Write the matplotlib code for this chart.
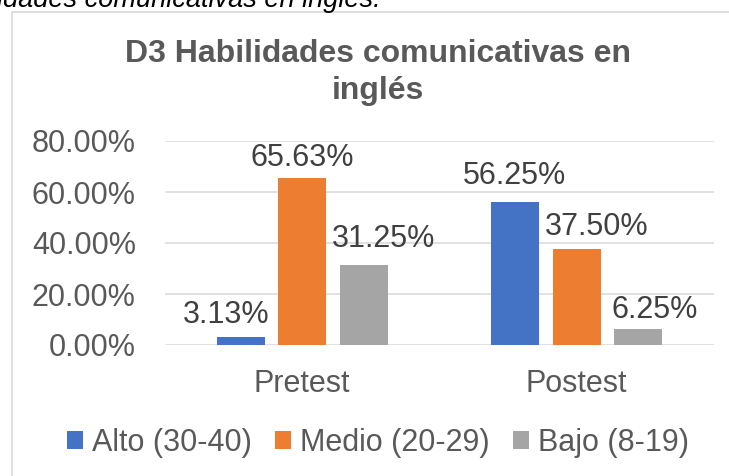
import matplotlib
matplotlib.use('Agg')
import matplotlib.pyplot as plt
from matplotlib.patches import Rectangle
import numpy as np

# ---- data ----
categories = ['Pretest', 'Postest']
series_names = ['Alto (30-40)', 'Medio (20-29)', 'Bajo (8-19)']
alto = [0.0313, 0.5625]
medio = [0.6563, 0.3750]
bajo = [0.3125, 0.0625]
yticks = [0.0, 0.2, 0.4, 0.6, 0.8]
title_lines = ['D3 Habilidades comunicativas en', 'inglés']
caption = 'idades comunicativas en inglés.'

# ---- style ----
colors = ['#4472C4', '#ED7D31', '#A5A5A5']
# label nudges in pixels (dx, gap above bar top), per series then category
label_nudges = [[(-15, 14), (-1, 18)],
                [(0, 12), (20, 14)],
                [(20, 18), (17, 11)]]

plt.rcParams['font.family'] = ['Liberation Sans', 'DejaVu Sans']

W, H = 729, 476
fig = plt.figure(figsize=(W / 100, H / 100), dpi=100)
fig.patch.set_facecolor('white')

# outer chart frame (right/bottom edges lie outside the picture)
fig.add_artist(Rectangle((12 / W, -0.1), 2, 1.1 - 12 / H,
                         transform=fig.transFigure, fill=False,
                         edgecolor='#d9d9d9', lw=1.2))

# cut-off caption at the very top
fig.text(-3 / W, 1 - 7 / H, caption, ha='left', va='baseline',
         fontsize=19.5, style='italic', color='black')

# title
fig.text(378 / W, 1 - 62 / H, title_lines[0], ha='center', va='baseline',
         fontsize=23, fontweight='bold', color='#595959')
fig.text(378 / W, 1 - 99 / H, title_lines[1], ha='center', va='baseline',
         fontsize=23, fontweight='bold', color='#595959')

ax = fig.add_axes([165 / W, 1 - 345 / H, (714 - 165) / W, 204 / H])
ax.set_axisbelow(True)

x = np.arange(len(categories))
width = 0.175
offsets = [-0.2233, 0.0, 0.2233]
all_series = [alto, medio, bajo]
handles = []
for i, (vals, name) in enumerate(zip(all_series, series_names)):
    bars = ax.bar(x + offsets[i], vals, width, color=colors[i], label=name,
                  zorder=3)
    handles.append(bars)
    for j, v in enumerate(vals):
        dx, gap = label_nudges[i][j]
        ax.annotate(f'{v * 100:.2f}%', xy=(x[j] + offsets[i], v),
                    xytext=(dx, gap), textcoords='offset pixels',
                    ha='center', va='baseline', fontsize=22,
                    color='#404040', zorder=4)

ax.set_xlim(-0.5, 1.5)
ax.set_ylim(0, 0.8)
ax.set_yticks(yticks)
ax.set_yticklabels([f'{t * 100:.2f}%' for t in yticks])
ax.set_xticks(x)
ax.set_xticklabels(categories)
ax.tick_params(axis='y', length=0, pad=21, labelsize=22, labelcolor='#595959')
ax.tick_params(axis='x', length=0, pad=17, labelsize=22, labelcolor='#595959')
ax.yaxis.grid(True, color='#d9d9d9', lw=1.1)
for s in ax.spines.values():
    s.set_visible(False)

fs_px = 22 * 100 / 72
fig.legend(handles, series_names, loc='center',
           bbox_to_anchor=(378 / W, 1 - 443 / H), ncol=3, frameon=False,
           fontsize=22, handlelength=16 / fs_px, handleheight=16 / fs_px,
           handletextpad=9 / fs_px, columnspacing=23 / fs_px,
           labelcolor='#595959', borderaxespad=0, borderpad=0)

fig.savefig('out.png', dpi=100)
